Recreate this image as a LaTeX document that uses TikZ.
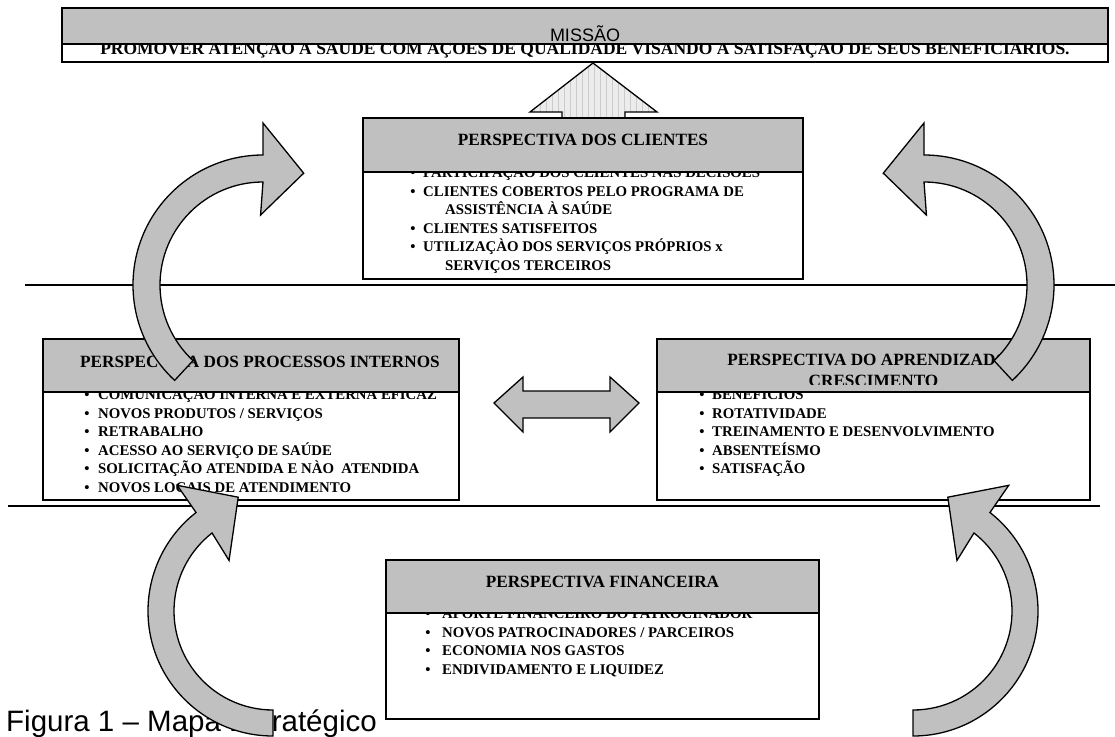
\documentclass[tikz,border=0pt]{standalone}
\usepackage{fontspec}
\setmainfont{Liberation Serif}
\newfontfamily\arialf{Liberation Sans}
\definecolor{silver}{HTML}{C0C0C0}
\newcommand\bitem[5]{\node[bul] (#1b) at (#2,#4) {•}; \node[item] (#1) at (#3,#4) {#5};}
\begin{document}
\begin{tikzpicture}[x=1pt,y=-1pt,
  hdr/.style={fill=silver, draw=black, line width=1.6pt, anchor=north west, inner sep=0, outer sep=0},
  body/.style={fill=white, draw=black, line width=1.6pt, anchor=north west, inner sep=0, outer sep=0},
  htext/.style={font=\fontsize{17.2}{19}\selectfont\bfseries, anchor=base, inner sep=0},
  item/.style={font=\fontsize{14.8}{17}\selectfont\bfseries, anchor=base west, inner sep=0},
  bul/.style={font=\fontsize{14.8}{17}\selectfont\bfseries, anchor=base, inner sep=0},
  carrow/.style={fill=silver, draw=black, line width=1.3pt, line join=miter},
  rule/.style={draw=black, line width=1.3pt}]
\useasboundingbox (0,0) rectangle (1115,736);
% horizontal rules
\coordinate (r1a) at (25,285); \coordinate (r1b) at (1115,285);
\coordinate (r2a) at (8,506); \coordinate (r2b) at (1100,506);
\draw[rule] (r1a) -- (r1b);
\draw[rule] (r2a) -- (r2b);
% mission
\node[body, minimum width=1046, minimum height=54] (mb) at (62,8) {};
\node[font=\fontsize{17.5}{19}\selectfont\bfseries, anchor=base, inner sep=0] (mt) at (585,54) {PROMOVER ATENÇÃO À SAÚDE COM AÇÕES DE QUALIDADE VISANDO À SATISFAÇÃO DE SEUS BENEFICIÁRIOS.};
\node[hdr, minimum width=1046, minimum height=36] (mh) at (62,8) {};
\node[font=\arialf\fontsize{18}{20}\selectfont, anchor=base, inner sep=0] (mis) at (585,41.5) {MISSÃO};
% up arrow with grid
\begin{scope}
\clip (593,63) -- (657,112) -- (625,112) -- (625,130) -- (562,130) -- (562,112) -- (530,112) -- cycle;
\fill[gray!15] (520,60) rectangle (670,135);
\draw[gray!40, line width=0.4pt, step=6] (520,60) grid (670,135);
\end{scope}
\draw[line width=1.3pt, line join=miter] (593,63) -- (657,112) -- (625,112) -- (625,130) -- (562,130) -- (562,112) -- (530,112) -- cycle;
% clients
\node[body, minimum width=440, minimum height=161] (cb) at (363,118) {};
\bitem{c1}{413}{423}{177.5}{PARTICIPAÇÃO DOS CLIENTES NAS DECISÕES}
\bitem{c2}{413}{423}{196}{CLIENTES COBERTOS PELO PROGRAMA DE}
\node[item] (c2b2) at (445,214.5) {ASSISTÊNCIA À SAÚDE};
\bitem{c3}{413}{423}{233}{CLIENTES SATISFEITOS}
\bitem{c4}{413}{423}{251.5}{UTILIZAÇÀO DOS SERVIÇOS PRÓPRIOS x}
\node[item] (c4b2) at (445,270) {SERVIÇOS TERCEIROS};
\node[hdr, minimum width=440, minimum height=54] (ch) at (363,118) {};
\node[htext] (ct) at (583,145.7) {PERSPECTIVA DOS CLIENTES};
% internal processes
\node[body, minimum width=416, minimum height=161] (pb) at (43,339) {};
\bitem{p1}{87}{98}{399.5}{COMUNICAÇÃO INTERNA E EXTERNA EFICAZ}
\bitem{p2}{87}{98}{418}{NOVOS PRODUTOS / SERVIÇOS}
\bitem{p3}{87}{98}{436.5}{RETRABALHO}
\bitem{p4}{87}{98}{455}{ACESSO AO SERVIÇO DE SAÚDE}
\bitem{p5}{87}{98}{473.5}{SOLICITAÇÃO ATENDIDA E NÀO\ \ ATENDIDA}
\bitem{p6}{87}{98}{492}{NOVOS LOCAIS DE ATENDIMENTO}
\node[hdr, minimum width=416, minimum height=53] (ph) at (43,339) {};
\node[htext] (pt) at (260,367) {PERSPECTIVA DOS PROCESSOS INTERNOS};
% learning and growth
\node[body, minimum width=433, minimum height=161] (lb) at (657,339) {};
\bitem{l1}{702}{712}{399.5}{BENEFÍCIOS}
\bitem{l2}{702}{712}{418}{ROTATIVIDADE}
\bitem{l3}{702}{712}{436.5}{TREINAMENTO E DESENVOLVIMENTO}
\bitem{l4}{702}{712}{455}{ABSENTEÍSMO}
\bitem{l5}{702}{712}{473.5}{SATISFAÇÃO}
\node[hdr, minimum width=433, minimum height=53] (lh) at (657,339) {};
\begin{scope}
\clip (657,339) rectangle (1090,384);
\node[htext] (lt1) at (876,365) {PERSPECTIVA DO APRENDIZADO E};
\node[htext] (lt2) at (873.5,386) {CRESCIMENTO};
\end{scope}
% financial
\node[body, minimum width=433, minimum height=159] (fb) at (386,560) {};
\bitem{f1}{428}{442}{618.5}{APORTE FINANCEIRO DO PATROCINADOR}
\bitem{f2}{428}{442}{637}{NOVOS PATROCINADORES / PARCEIROS}
\bitem{f3}{428}{442}{655.5}{ECONOMIA NOS GASTOS}
\bitem{f4}{428}{442}{674}{ENDIVIDAMENTO E LIQUIDEZ}
\node[hdr, minimum width=433, minimum height=53] (fh) at (386,560) {};
\node[htext] (ft) at (602.5,587) {PERSPECTIVA FINANCEIRA};
% caption
\node[font=\arialf\fontsize{29.5}{31}\selectfont, anchor=base west, inner sep=0] (cap) at (6,731) {Figura 1 – Mapa Estratégico};
% double arrow
\draw[carrow] (494,403) -- (523,377) -- (523,391) -- (610,391) -- (610,377) -- (639,403) -- (610,432) -- (610,418) -- (523,418) -- (523,432) -- cycle;
% curved arrows
\draw[carrow] ([shift={(263,285)}]132.8:130) arc[start angle=132.8,end angle=270,radius=130]
  -- ([shift={(263,285)}]270:162) -- ([shift={(263,285)}]290:119) -- ([shift={(263,285)}]268:70)
  -- ([shift={(263,285)}]270:103) arc[start angle=270,end angle=132.8,radius=103] -- cycle;
\draw[carrow] ([shift={(924,285)}]47.2:130) arc[start angle=47.2,end angle=-90,radius=130]
  -- ([shift={(924,285)}]-90:162) -- ([shift={(924,285)}]-110:119) -- ([shift={(924,285)}]-88:70)
  -- ([shift={(924,285)}]-90:103) arc[start angle=-90,end angle=47.2,radius=103] -- cycle;
\draw[carrow] ([shift={(913,611)}]90:125) arc[start angle=90,end angle=-52,radius=125]
  -- ([shift={(913,611)}]-52.7:158) -- ([shift={(913,611)}]-73:119) -- ([shift={(913,611)}]-49:67)
  -- ([shift={(913,611)}]-52:99) arc[start angle=-52,end angle=90,radius=99] -- cycle;
\draw[carrow] ([shift={(273,611)}]90:125) arc[start angle=90,end angle=232,radius=125]
  -- ([shift={(273,611)}]232.7:158) -- ([shift={(273,611)}]253:119) -- ([shift={(273,611)}]229:67)
  -- ([shift={(273,611)}]232:99) arc[start angle=232,end angle=90,radius=99] -- cycle;
\end{tikzpicture}
\end{document}
